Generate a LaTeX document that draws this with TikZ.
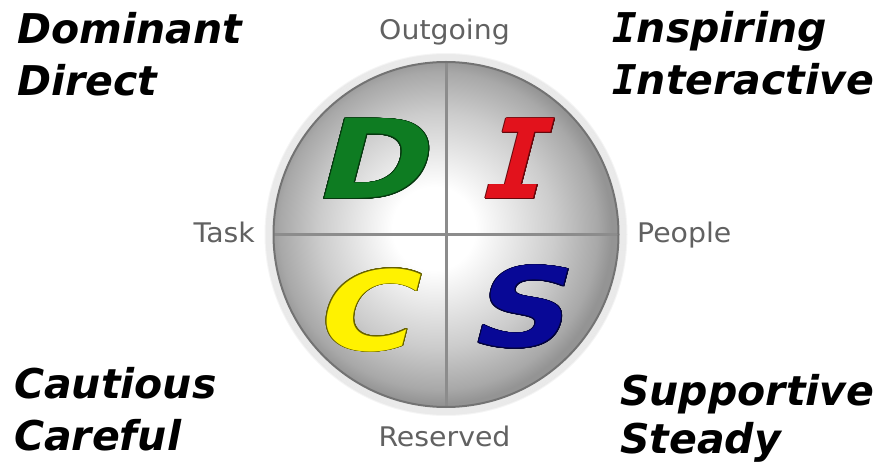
\documentclass[tikz,border=0pt]{standalone}
\usepackage{fontspec}
\usepackage{contour}
\newfontfamily\discfont{DejaVu Sans}
\newfontfamily\discmono{DejaVu Sans Mono}
\newfontfamily\discletter[FakeSlant=0.26,FakeStretch=1.22]{DejaVu Sans Bold}
\newfontfamily\discmonoletter[FakeSlant=0.26]{DejaVu Sans Mono Bold}
\newfontfamily\disclabel[FakeStretch=1.05]{DejaVu Sans}
\usetikzlibrary{positioning}
\contourlength{0.9pt}
\contournumber{24}
\definecolor{dgreen}{RGB}{14,124,34}
\definecolor{ired}{RGB}{226,18,28}
\definecolor{cyellow}{RGB}{255,242,0}
\definecolor{snavy}{RGB}{8,8,150}
\pgfdeclareradialshading{discglow}{\pgfpoint{-2bp}{1bp}}{color(0bp)=(white); color(6bp)=(white); color(17bp)=(black!20); color(23bp)=(black!34); color(25bp)=(black!42); color(50bp)=(black!42)}
\newcommand{\serifI}{{\discmono I}}

\begin{document}
\begin{tikzpicture}[x=1pt,y=-1pt,line join=round,line cap=round,
  trait/.style={anchor=base west,inner sep=0pt,font=\discfont\bfseries\itshape\fontsize{41}{41}\selectfont},
  axislabel/.style={anchor=base,inner sep=0pt,text=black!62,font=\disclabel\fontsize{27}{27}\selectfont},
  letter/.style={anchor=base,inner sep=0pt,font=\discletter\fontsize{110}{110}\selectfont}]
  \useasboundingbox[fill=white] (0,0) rectangle (881,462);
  % soft halo round the disc
  \foreach \k in {1,...,8}
    \draw[black,opacity=0.04,line width=2pt] (446,234.5) circle[radius=172.5+\k];
  \node[circle,minimum size=345pt,inner sep=0pt,shading=discglow] (disc) at (446,234.5) {};
  \draw[black!45,line width=3pt,line cap=butt] (disc.north) -- (disc.south);
  \draw[black!45,line width=3pt,line cap=butt] (disc.west) -- (disc.east);
  \draw[black!55,line width=2pt] (disc.center) circle[radius=172.5];
  % quadrant letters
  \node[letter,text=dgreen] (d) at (368,199) {\contour{dgreen!45!black}{D}};
  \node[letter,text=ired,font=\discmonoletter\fontsize{110}{110}\selectfont] (i) at (510,199) {\contour{ired!45!black}{I}};
  \node[letter,text=cyellow] (c) at (361,350) {\contour{cyellow!40!black}{C}};
  \node[letter,text=snavy] (s) at (516,347) {\contour{snavy!40!black}{S}};
  % axis labels
  \node[axislabel] (outgoing) at (444.5,40) {Outgoing};
  \node[axislabel] (reserved) at (444.5,446) {Reserved};
  \node[axislabel,anchor=base east] (task) at (255,243) {Task};
  \node[axislabel,anchor=base west] (people) at (637,243) {People};
  % trait words
  \node[trait] (dominant) at (17,44) {Dominant};
  \node[trait] (direct) at (17,96) {Direct};
  \node[trait] (inspiring) at (612,43) {\serifI nspiring};
  \node[trait] (interactive) at (612,95) {\serifI nteractive};
  \node[trait] (cautious) at (14,398) {Cautious};
  \node[trait] (careful) at (14,450) {Careful};
  \node[trait] (supportive) at (620,405) {Supportive};
  \node[trait] (steady) at (620,453) {Steady};
\end{tikzpicture}
\end{document}
